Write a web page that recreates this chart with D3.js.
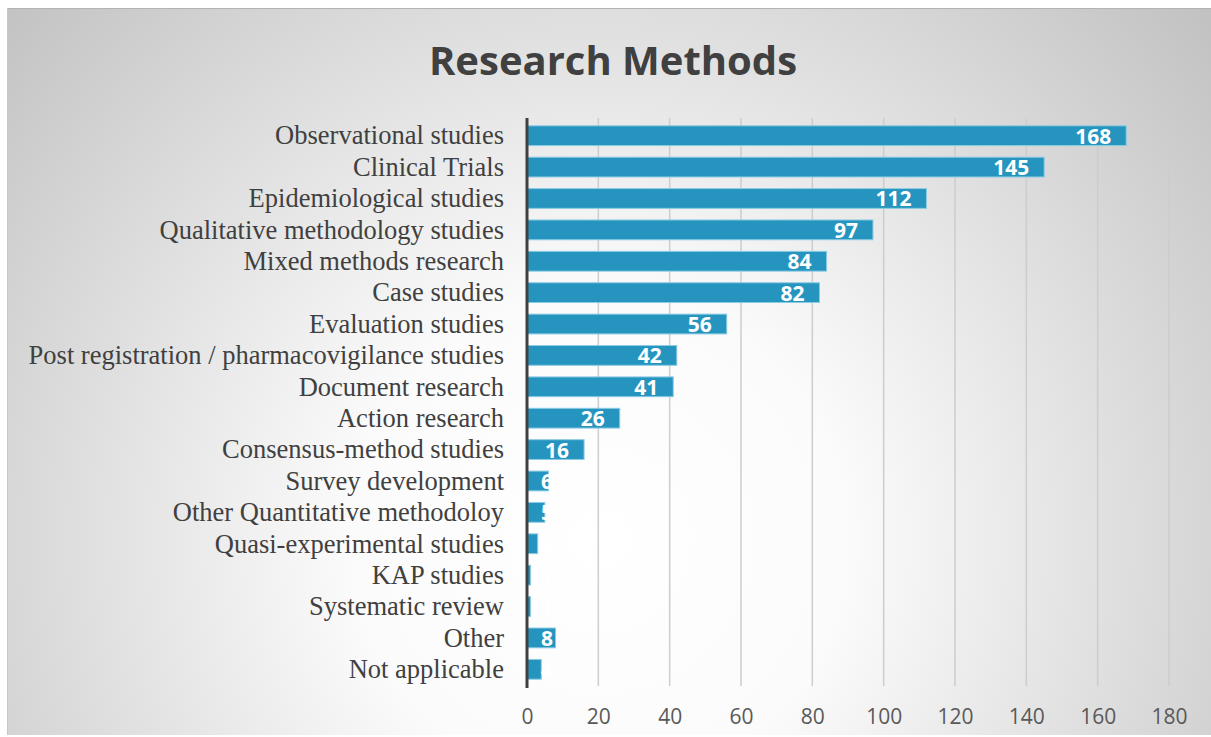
<!DOCTYPE html>
<html>
<head>
<meta charset="utf-8">
<script src="https://cdn.jsdelivr.net/npm/d3@7"></script>
<style>
  html, body { margin: 0; padding: 0; background: #ffffff; }
  svg { display: block; }
</style>
</head>
<body>
<svg id="chart" width="1211" height="737"></svg>
<script>
const title = "Research Methods";
const categories = [
  "Observational studies",
  "Clinical Trials",
  "Epidemiological studies",
  "Qualitative methodology studies",
  "Mixed methods research",
  "Case studies",
  "Evaluation studies",
  "Post registration / pharmacovigilance studies",
  "Document research",
  "Action research",
  "Consensus-method studies",
  "Survey development",
  "Other Quantitative methodoloy",
  "Quasi-experimental studies",
  "KAP studies",
  "Systematic review",
  "Other",
  "Not applicable"
];
const values = [168, 145, 112, 97, 84, 82, 56, 42, 41, 26, 16, 6, 5, 3, 1, 1, 8, 4];
const tickValues = [0, 20, 40, 60, 80, 100, 120, 140, 160, 180];

const svg = d3.select("#chart");
const W = 1211, H = 737;

// background
const defs = svg.append("defs");
const grad = defs.append("radialGradient")
  .attr("id", "bg").attr("gradientUnits", "userSpaceOnUse")
  .attr("cx", 600).attr("cy", 540).attr("r", 820)
  .attr("fx", 600).attr("fy", 540);
grad.append("stop").attr("offset", "0").attr("stop-color", "#ffffff");
grad.append("stop").attr("offset", "0.3").attr("stop-color", "#fbfbfb");
grad.append("stop").attr("offset", "1").attr("stop-color", "#c0c0c0");

svg.append("rect").attr("x", 7).attr("y", 8).attr("width", W - 7).attr("height", 727)
  .attr("fill", "url(#bg)");
svg.append("line").attr("x1", 7).attr("x2", W).attr("y1", 8.5).attr("y2", 8.5)
  .attr("stroke", "#b3b3b3").attr("stroke-width", 1);
svg.append("line").attr("x1", 7.5).attr("x2", 7.5).attr("y1", 8).attr("y2", 735)
  .attr("stroke", "#c6c6c6").attr("stroke-width", 1);

const x = d3.scaleLinear().domain([0, 180]).range([527, 1169]);
const y = d3.scaleBand().domain(categories).range([120, 685]).paddingInner(0.37).paddingOuter(0.185);

// title
svg.append("text").attr("x", 613).attr("y", 75)
  .attr("text-anchor", "middle")
  .attr("font-family", "'Open Sans', sans-serif").attr("font-weight", 700)
  .attr("font-size", 40).attr("fill", "#404040")
  .text(title);

// gridlines
svg.append("g").selectAll("line").data(tickValues.filter(d => d > 0)).join("line")
  .attr("x1", d => x(d)).attr("x2", d => x(d))
  .attr("y1", 118).attr("y2", 686)
  .attr("stroke", "#cdcdcd").attr("stroke-width", 1.5);

// bottom axis labels
const xAxis = d3.axisBottom(x).tickValues(tickValues).tickSize(0).tickPadding(0).tickFormat(d3.format("d"));
const gx = svg.append("g").attr("transform", "translate(0,709)").call(xAxis);
gx.select(".domain").remove();
gx.selectAll("text")
  .attr("font-family", "'Open Sans', sans-serif").attr("font-size", 21)
  .attr("fill", "#595959").attr("dy", "0.71em");

// bars
svg.append("g").selectAll("rect").data(values).join("rect")
  .attr("x", x(0))
  .attr("y", (d, i) => y(categories[i]))
  .attr("width", d => x(d) - x(0))
  .attr("height", y.bandwidth())
  .attr("fill", "#2595bf")
  .attr("stroke", "#8ccbe3").attr("stroke-width", 1);

// category labels
const yAxis = d3.axisLeft(y).tickSize(0).tickPadding(23);
const gy = svg.append("g").attr("transform", `translate(${x(0)},0)`).call(yAxis);
gy.select(".domain").remove();
gy.selectAll("text")
  .attr("font-family", "'Liberation Serif', 'Times New Roman', serif").attr("font-size", 26.5)
  .attr("fill", "#404040").attr("dy", "0.33em");

// vertical axis line
svg.append("line").attr("x1", x(0)).attr("x2", x(0)).attr("y1", 118).attr("y2", 688)
  .attr("stroke", "#404040").attr("stroke-width", 3);

// value labels
const lbl = svg.append("g").selectAll("text").data(values).join("text")
  .attr("y", (d, i) => y(categories[i]) + y.bandwidth() / 2 + 8)
  .attr("font-family", "'Open Sans', sans-serif").attr("font-weight", 700)
  .attr("font-size", 21).attr("fill", "#ffffff")
  .text(d => d);
lbl.each(function(d) {
  const w = this.getComputedTextLength();
  let right = x(d) - 15;
  if (right - w < x(0) + 14) right = x(0) + 14 + w;
  d3.select(this).attr("x", right).attr("text-anchor", "end");
});
</script>
</body>
</html>
